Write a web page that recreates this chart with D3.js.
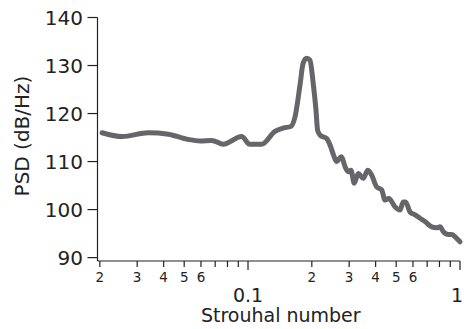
<!DOCTYPE html>
<html>
<head>
<meta charset="utf-8">
<script src="https://cdn.jsdelivr.net/npm/d3@7"></script>
<style>
  html, body { margin: 0; padding: 0; background: #fff; }
  svg { display: block; font-family: "DejaVu Sans", sans-serif; }
</style>
</head>
<body>
<svg id="chart" width="464" height="329"></svg>
<script>
// Data
const strouhal = [0.0205, 0.0255, 0.0339, 0.0421, 0.0523, 0.0594, 0.0675, 0.0764, 0.0933, 0.102,
  0.116, 0.134, 0.147, 0.159, 0.167, 0.176, 0.182, 0.189, 0.196, 0.203, 0.209, 0.213, 0.219,
  0.235, 0.244, 0.253, 0.262, 0.275, 0.289, 0.297, 0.306, 0.317, 0.331, 0.350, 0.367, 0.383,
  0.404, 0.427, 0.443, 0.462, 0.493, 0.521, 0.540, 0.554, 0.581, 0.614, 0.647, 0.684, 0.736,
  0.776, 0.805, 0.834, 0.881, 0.914, 0.964, 1.0];
const psd = [116.0, 115.2, 116.0, 115.7, 114.6, 114.3, 114.4, 113.6, 115.2, 113.6,
  113.6, 116.3, 117.0, 117.3, 119.5, 126.0, 130.5, 131.5, 131.1, 126.3, 121.0, 116.5, 115.5,
  114.8, 113.4, 111.4, 110.0, 111.0, 108.6, 107.9, 108.2, 105.5, 107.5, 106.5, 108.2, 107.2,
  104.75, 104.1, 102.0, 102.3, 100.6, 99.9, 101.6, 101.6, 99.5, 98.9, 98.2, 97.5, 96.4,
  96.2, 96.4, 95.4, 94.8, 94.8, 94.0, 93.3];
const yTicks = [90, 100, 110, 120, 130, 140];
const xMinorTicks = [0.02, 0.03, 0.04, 0.05, 0.06, 0.07, 0.08, 0.09, 0.2, 0.3, 0.4, 0.5, 0.6, 0.7, 0.8, 0.9];
const xMinorLabelled = [0.02, 0.03, 0.04, 0.05, 0.06, 0.2, 0.3, 0.4, 0.5, 0.6];
const xMajorTicks = [0.1, 1];
const xLabel = "Strouhal number";
const yLabel = "PSD (dB/Hz)";

const svg = d3.select("#chart");
const mLeft = 97.5, mRight = 460, mTop = 17.5, axisY = 261;

const x = d3.scaleLog().domain([0.0195, 1]).range([mLeft, mRight]);
const y = d3.scaleLinear().domain([89.5, 140]).range([260, mTop]);

const axisColor = "#222";

// Y axis
const ya = svg.append("g");
ya.append("line").attr("x1", mLeft).attr("x2", mLeft).attr("y1", mTop).attr("y2", axisY)
  .attr("stroke", axisColor).attr("stroke-width", 1.2);
ya.selectAll("line.t").data(yTicks).enter().append("line").attr("class", "t")
  .attr("x1", mLeft - 10).attr("x2", mLeft).attr("y1", d => y(d)).attr("y2", d => y(d))
  .attr("stroke", axisColor).attr("stroke-width", 1.2);
ya.selectAll("text").data(yTicks).enter().append("text")
  .attr("x", 83).attr("y", d => y(d)).attr("dy", "0.36em")
  .attr("text-anchor", "end").attr("font-size", 20).attr("fill", "#222")
  .text(d => d);

// X axis
const xa = svg.append("g");
xa.append("line").attr("x1", mLeft).attr("x2", mRight).attr("y1", axisY).attr("y2", axisY)
  .attr("stroke", axisColor).attr("stroke-width", 1.2);
xa.selectAll("line.mn").data(xMinorTicks).enter().append("line").attr("class", "mn")
  .attr("x1", d => x(d)).attr("x2", d => x(d)).attr("y1", axisY).attr("y2", axisY + 6)
  .attr("stroke", axisColor).attr("stroke-width", 1.2);
xa.selectAll("line.mj").data(xMajorTicks).enter().append("line").attr("class", "mj")
  .attr("x1", d => x(d)).attr("x2", d => x(d)).attr("y1", axisY).attr("y2", axisY + 9)
  .attr("stroke", axisColor).attr("stroke-width", 1.2);
xa.selectAll("text.mn").data(xMinorLabelled).enter().append("text").attr("class", "mn")
  .attr("x", d => x(d)).attr("y", 281.5).attr("text-anchor", "middle")
  .attr("font-size", 13.5).attr("fill", "#222")
  .text(d => Math.round(d / Math.pow(10, Math.floor(Math.log10(d) + 1e-9))));
xa.selectAll("text.mj").data(xMajorTicks).enter().append("text").attr("class", "mj")
  .attr("x", d => Math.min(x(d), 457)).attr("y", 301.5).attr("text-anchor", "middle")
  .attr("font-size", 19).attr("fill", "#222")
  .text(d => d);

// Axis titles
svg.append("text").attr("x", (mLeft + mRight) / 2 + 2).attr("y", 321.5)
  .attr("text-anchor", "middle").attr("font-size", 19).attr("fill", "#222").text(xLabel);
svg.append("text").attr("transform", "translate(22,136) rotate(-90)")
  .attr("dy", "0.35em").attr("text-anchor", "middle").attr("font-size", 20)
  .attr("fill", "#222").text(yLabel);

// Line
const pts = strouhal.map((s, i) => [s, psd[i]]);
const line = d3.line().x(d => x(d[0])).y(d => y(d[1])).curve(d3.curveMonotoneX);
svg.append("path").datum(pts).attr("d", line)
  .attr("fill", "none").attr("stroke", "#66666a").attr("stroke-width", 5)
  .attr("stroke-linejoin", "round").attr("stroke-linecap", "round");
</script>
</body>
</html>
